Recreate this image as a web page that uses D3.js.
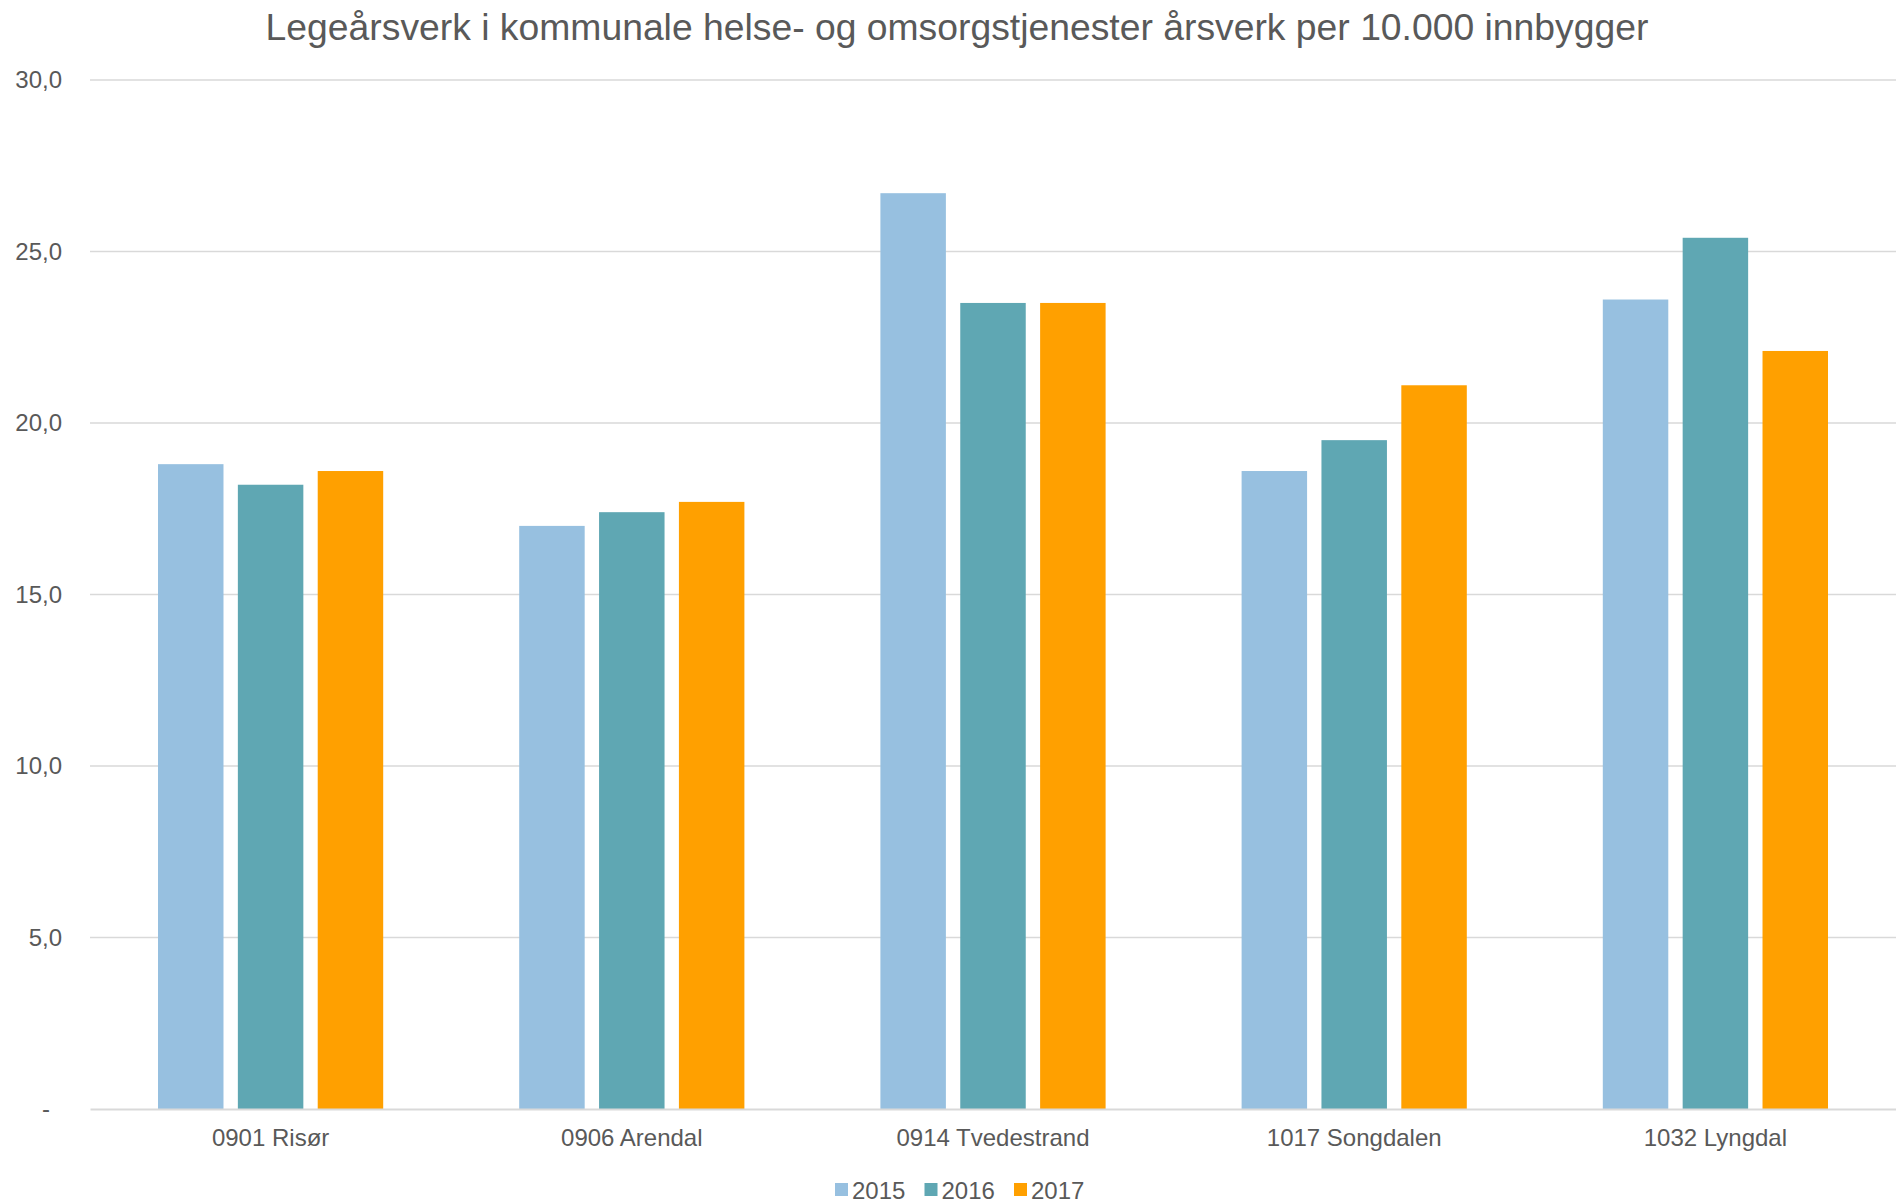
<!DOCTYPE html>
<html>
<head>
<meta charset="utf-8">
<script src="https://cdn.jsdelivr.net/npm/d3@7"></script>
<style>
  html, body { margin: 0; padding: 0; background: #fff; }
  svg text { font-family: "Liberation Sans", Arial, sans-serif; fill: #595959; }
</style>
</head>
<body>
<svg id="chart" width="1896" height="1203"></svg>
<script>
// Kommuner og år
const categories = ["0901 Risør", "0906 Arendal", "0914 Tvedestrand", "1017 Songdalen", "1032 Lyngdal"];
const years = ["2015", "2016", "2017"];

// Legeårsverk per 10.000 innbyggere, én liste per år
const values2015 = [18.8, 17.0, 26.7, 18.6, 23.6];
const values2016 = [18.2, 17.4, 23.5, 19.5, 25.4];
const values2017 = [18.6, 17.7, 23.5, 21.1, 22.1];

const yTicks = [0, 5, 10, 15, 20, 25, 30];
const titleText = "Legeårsverk i kommunale helse- og omsorgstjenester årsverk per 10.000 innbygger";

const colors = ["#97c0e0", "#5fa7b3", "#ffa000"];
const seriesValues = [values2015, values2016, values2017];

const svg = d3.select("#chart");
const margin = { left: 90, right: 0, top: 80, bottom: 94 };
const W = 1896, H = 1203;
const plotW = W - margin.left - margin.right;
const plotH = H - margin.top - margin.bottom;

const g = svg.append("g").attr("transform", `translate(${margin.left},${margin.top})`);

const x0 = d3.scaleBand().domain(categories).range([0, plotW]).padding(0);
const groupPad = 68;
const x1 = d3.scaleBand().domain(years)
  .range([groupPad, x0.bandwidth() - groupPad])
  .paddingInner(0.18);
const y = d3.scaleLinear().domain([0, 30]).range([plotH, 0]);

// Horisontale rutenettlinjer
g.append("g").selectAll("line")
  .data(yTicks.filter(d => d > 0))
  .join("line")
  .attr("x1", 0).attr("x2", plotW)
  .attr("y1", d => y(d)).attr("y2", d => y(d))
  .attr("stroke", "#d9d9d9").attr("stroke-width", 1.5);

// Y-akse
const yAxis = d3.axisLeft(y).tickValues(yTicks).tickSize(0).tickPadding(28)
  .tickFormat(d => d === 0 ? "-" : d3.format(".1f")(d).replace(".", ","));
const yg = g.append("g").call(yAxis);
yg.select(".domain").remove();
yg.selectAll("text").style("font-size", "24px").attr("fill", "#595959");
yg.selectAll(".tick").filter(d => d === 0).select("text").attr("x", -40);

// Stolper
const groups = g.append("g").selectAll("g")
  .data(categories)
  .join("g")
  .attr("transform", d => `translate(${x0(d)},0)`);

groups.selectAll("rect")
  .data((c, ci) => years.map((yr, si) => ({ yr, si, v: seriesValues[si][ci] })))
  .join("rect")
  .attr("x", d => x1(d.yr))
  .attr("width", x1.bandwidth())
  .attr("y", d => y(d.v))
  .attr("height", d => y(0) - y(d.v))
  .attr("fill", d => colors[d.si]);

// X-akse (grunnlinje og kategorietiketter)
const xAxis = d3.axisBottom(x0).tickSize(0).tickPadding(20);
const xg = g.append("g").attr("transform", `translate(0,${plotH})`).call(xAxis);
xg.select(".domain").attr("stroke", "#d9d9d9").attr("stroke-width", 2);
xg.selectAll("text").style("font-size", "24px").attr("fill", "#595959");

// Tittel
svg.append("text")
  .attr("x", 957).attr("y", 40)
  .attr("text-anchor", "middle")
  .style("font-size", "37.3px")
  .text(titleText);

// Forklaring
const legend = svg.append("g").attr("transform", "translate(835,1190)");
years.forEach((yr, i) => {
  const item = legend.append("g").attr("transform", `translate(${i * 89.5},0)`);
  item.append("rect").attr("x", 0).attr("y", -7).attr("width", 13).attr("height", 13).attr("fill", colors[i]);
  item.append("text").attr("x", 17).attr("y", 8.5).style("font-size", "24px").text(yr);
});
</script>
</body>
</html>
